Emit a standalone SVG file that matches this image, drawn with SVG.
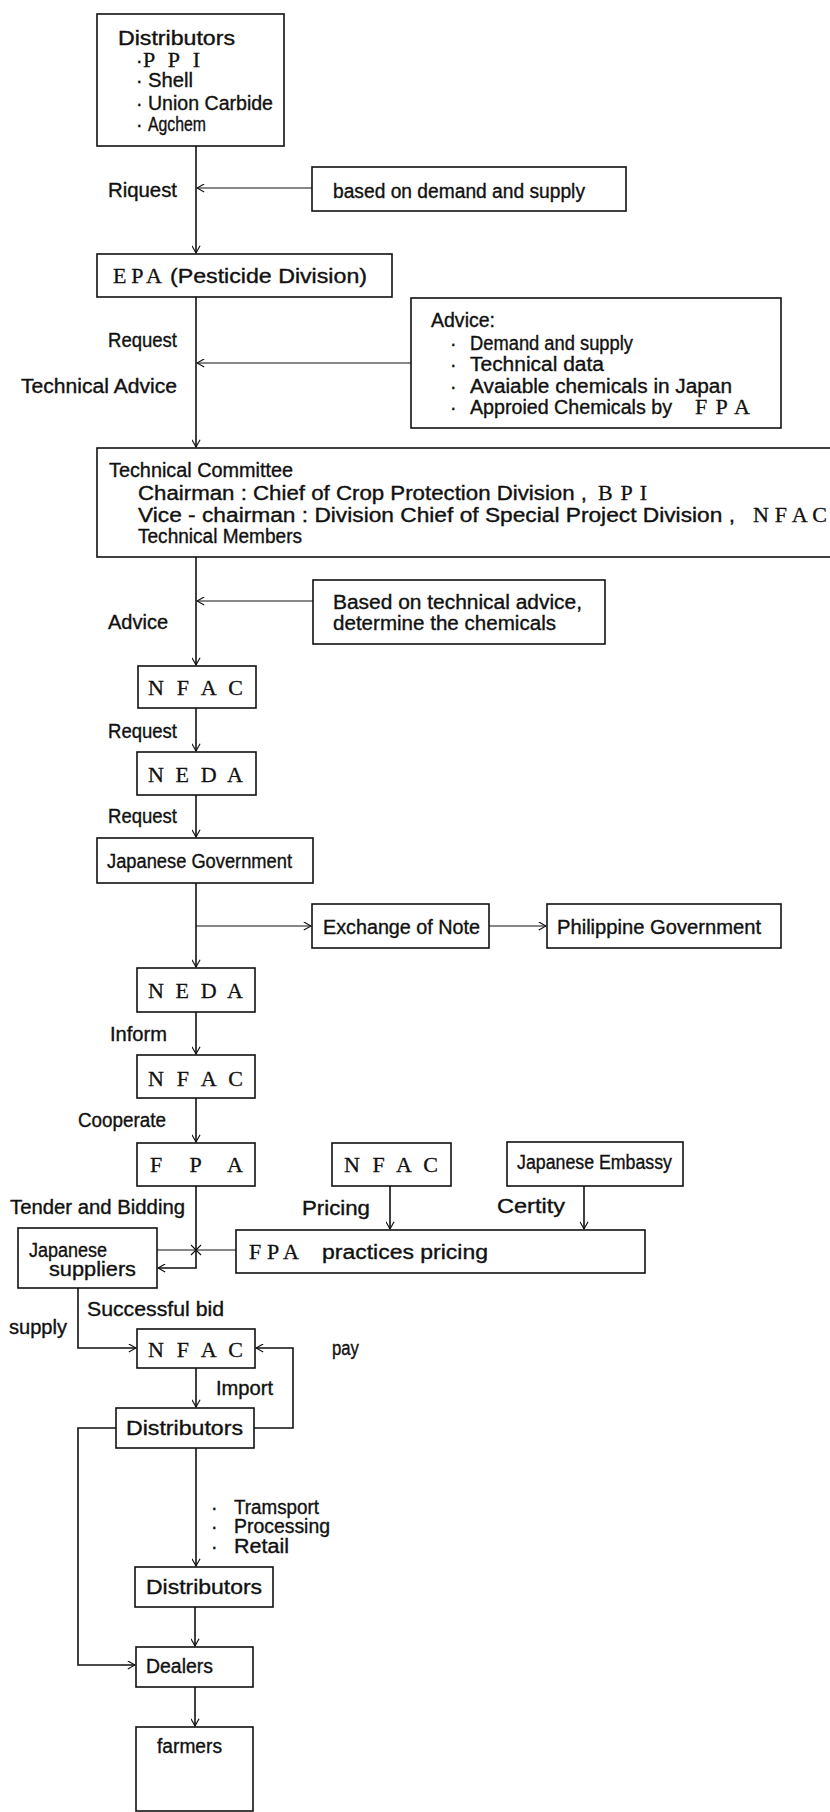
<svg xmlns="http://www.w3.org/2000/svg" width="830" height="1812" viewBox="0 0 830 1812">
<style>
.box{fill:#fff;stroke:#111;stroke-width:1.6}
.t{font-family:"Liberation Sans",Arial,sans-serif;font-size:19.5px;fill:#111;stroke:#111;stroke-width:0.35}
.s{font-family:"Liberation Serif","Times New Roman",serif;font-size:22px;fill:#111;stroke:#111;stroke-width:0.3}
.ln{fill:none;stroke:#111;stroke-width:1.6}
.thin{fill:none;stroke:#111;stroke-width:1.1}
</style>
<defs>
<marker id="ah" viewBox="0 0 10 10" refX="9" refY="5" markerWidth="9" markerHeight="9" markerUnits="userSpaceOnUse" orient="auto">
<path d="M1,0.5 L9,5 L1,9.5" fill="none" stroke="#111" stroke-width="1.3"/>
</marker>
</defs>
<rect width="830" height="1812" fill="#fff"/>

<g id="connectors">
<line class="ln" x1="196" y1="146" x2="196" y2="253" marker-end="url(#ah)"/>
<line class="thin" x1="312" y1="188" x2="197" y2="188" marker-end="url(#ah)"/>
<line class="ln" x1="196" y1="297" x2="196" y2="447" marker-end="url(#ah)"/>
<line class="thin" x1="411" y1="363" x2="197" y2="363" marker-end="url(#ah)"/>
<line class="ln" x1="196" y1="557" x2="196" y2="665" marker-end="url(#ah)"/>
<line class="thin" x1="313" y1="601" x2="197" y2="601" marker-end="url(#ah)"/>
<line class="ln" x1="196" y1="708" x2="196" y2="751" marker-end="url(#ah)"/>
<line class="ln" x1="196" y1="795" x2="196" y2="837" marker-end="url(#ah)"/>
<line class="ln" x1="196" y1="883" x2="196" y2="967" marker-end="url(#ah)"/>
<line class="thin" x1="196" y1="926" x2="311" y2="926" marker-end="url(#ah)"/>
<line class="thin" x1="489" y1="926" x2="546" y2="926" marker-end="url(#ah)"/>
<line class="ln" x1="196" y1="1012" x2="196" y2="1054" marker-end="url(#ah)"/>
<line class="ln" x1="196" y1="1098" x2="196" y2="1142" marker-end="url(#ah)"/>
<path class="ln" d="M196,1186 V1268 H158" marker-end="url(#ah)"/>
<line class="thin" x1="157" y1="1250" x2="236" y2="1250"/>
<path class="thin" d="M191,1245 L201,1255 M201,1245 L191,1255"/>
<line class="ln" x1="390" y1="1186" x2="390" y2="1229" marker-end="url(#ah)"/>
<line class="ln" x1="584" y1="1186" x2="584" y2="1229" marker-end="url(#ah)"/>
<path class="ln" d="M78,1288 V1348 H136" marker-end="url(#ah)"/>
<line class="ln" x1="196" y1="1368" x2="196" y2="1407" marker-end="url(#ah)"/>
<path class="ln" d="M254,1428 H293 V1348 H256" marker-end="url(#ah)"/>
<line class="ln" x1="196" y1="1448" x2="196" y2="1566" marker-end="url(#ah)"/>
<path class="ln" d="M116,1428 H78 V1665 H135" marker-end="url(#ah)"/>
<line class="ln" x1="195" y1="1607" x2="195" y2="1646" marker-end="url(#ah)"/>
<line class="ln" x1="195" y1="1687" x2="195" y2="1726" marker-end="url(#ah)"/>
</g>

<g id="labels">
<text class="t" x="108" y="197" textLength="69" lengthAdjust="spacingAndGlyphs">Riquest</text>
<text class="t" x="108" y="347" textLength="69" lengthAdjust="spacingAndGlyphs">Request</text>
<text class="t" x="21" y="393" textLength="156" lengthAdjust="spacingAndGlyphs">Technical Advice</text>
<text class="t" x="108" y="629" textLength="60" lengthAdjust="spacingAndGlyphs">Advice</text>
<text class="t" x="108" y="738" textLength="69" lengthAdjust="spacingAndGlyphs">Request</text>
<text class="t" x="108" y="823" textLength="69" lengthAdjust="spacingAndGlyphs">Request</text>
<text class="t" x="110" y="1041" textLength="57" lengthAdjust="spacingAndGlyphs">Inform</text>
<text class="t" x="78" y="1127" textLength="88" lengthAdjust="spacingAndGlyphs">Cooperate</text>
<text class="t" x="10" y="1214" textLength="175" lengthAdjust="spacingAndGlyphs">Tender and Bidding</text>
<text class="t" x="302" y="1215" textLength="68" lengthAdjust="spacingAndGlyphs">Pricing</text>
<text class="t" x="497" y="1213" textLength="68" lengthAdjust="spacingAndGlyphs">Certity</text>
<text class="t" x="87" y="1316" textLength="137" lengthAdjust="spacingAndGlyphs">Successful bid</text>
<text class="t" x="9" y="1334" textLength="58" lengthAdjust="spacingAndGlyphs">supply</text>
<text class="t" x="332" y="1355" textLength="27" lengthAdjust="spacingAndGlyphs">pay</text>
<text class="t" x="216" y="1395" textLength="57" lengthAdjust="spacingAndGlyphs">Import</text>
<text class="t" x="211" y="1514">·</text>
<text class="t" x="234" y="1514" textLength="85" lengthAdjust="spacingAndGlyphs">Tramsport</text>
<text class="t" x="211" y="1533">·</text>
<text class="t" x="234" y="1533" textLength="96" lengthAdjust="spacingAndGlyphs">Processing</text>
<text class="t" x="211" y="1553">·</text>
<text class="t" x="234" y="1553" textLength="55" lengthAdjust="spacingAndGlyphs">Retail</text>
</g>

<g id="distributors-top">
<rect class="box" x="97" y="14" width="187" height="132"/>
<text class="t" x="118" y="45" textLength="117" lengthAdjust="spacingAndGlyphs">Distributors</text>
<text class="t" x="136" y="67">·</text>
<text class="s" x="143" y="67" textLength="57" lengthAdjust="spacing">P P I</text>
<text class="t" x="136" y="87">·</text>
<text class="t" x="148" y="87" textLength="45" lengthAdjust="spacingAndGlyphs">Shell</text>
<text class="t" x="136" y="110">·</text>
<text class="t" x="148" y="110" textLength="125" lengthAdjust="spacingAndGlyphs">Union Carbide</text>
<text class="t" x="136" y="131">·</text>
<text class="t" x="148" y="131" textLength="58" lengthAdjust="spacingAndGlyphs">Agchem</text>
</g>

<g id="demand-supply">
<rect class="box" x="312" y="167" width="314" height="44"/>
<text class="t" x="333" y="198" textLength="252" lengthAdjust="spacingAndGlyphs">based on demand and supply</text>
</g>

<g id="epa">
<rect class="box" x="97" y="254" width="295" height="43"/>
<text class="s" x="113" y="283" textLength="49" lengthAdjust="spacing">E P A</text>
<text class="t" x="170" y="283" textLength="197" lengthAdjust="spacingAndGlyphs">(Pesticide Division)</text>
</g>

<g id="advice-box">
<rect class="box" x="411" y="298" width="370" height="130"/>
<text class="t" x="431" y="327" textLength="64" lengthAdjust="spacingAndGlyphs">Advice:</text>
<text class="t" x="450" y="350">·</text>
<text class="t" x="470" y="350" textLength="163" lengthAdjust="spacingAndGlyphs">Demand and supply</text>
<text class="t" x="450" y="371">·</text>
<text class="t" x="470" y="371" textLength="134" lengthAdjust="spacingAndGlyphs">Technical data</text>
<text class="t" x="450" y="393">·</text>
<text class="t" x="470" y="393" textLength="262" lengthAdjust="spacingAndGlyphs">Avaiable chemicals in Japan</text>
<text class="t" x="450" y="414">·</text>
<text class="t" x="470" y="414" textLength="202" lengthAdjust="spacingAndGlyphs">Approied Chemicals by</text>
<text class="s" x="695" y="414" textLength="55" lengthAdjust="spacing">F P A</text>
</g>

<g id="technical-committee">
<rect class="box" x="97" y="448" width="745" height="109"/>
<text class="t" x="109" y="477" textLength="184" lengthAdjust="spacingAndGlyphs">Technical Committee</text>
<text class="t" x="138" y="500" textLength="449" lengthAdjust="spacingAndGlyphs">Chairman : Chief of Crop Protection Division ,</text>
<text class="s" x="598" y="500" textLength="49" lengthAdjust="spacing">B P I</text>
<text class="t" x="138" y="522" textLength="597" lengthAdjust="spacingAndGlyphs">Vice - chairman : Division Chief of Special Project Division ,</text>
<text class="s" x="753" y="522" textLength="74" lengthAdjust="spacing">N F A C</text>
<text class="t" x="138" y="543" textLength="164" lengthAdjust="spacingAndGlyphs">Technical Members</text>
</g>

<g id="determine-box">
<rect class="box" x="313" y="580" width="292" height="64"/>
<text class="t" x="333" y="609" textLength="249" lengthAdjust="spacingAndGlyphs">Based on technical advice,</text>
<text class="t" x="333" y="630" textLength="223" lengthAdjust="spacingAndGlyphs">determine the chemicals</text>
</g>

<g id="nfac-1">
<rect class="box" x="138" y="666" width="118" height="42"/>
<text class="s" x="148" y="695" textLength="95" lengthAdjust="spacing">N F A C</text>
</g>

<g id="neda-1">
<rect class="box" x="137" y="752" width="119" height="43"/>
<text class="s" x="148" y="782" textLength="95" lengthAdjust="spacing">N E D A</text>
</g>

<g id="japanese-government">
<rect class="box" x="97" y="838" width="216" height="45"/>
<text class="t" x="107" y="868" textLength="185" lengthAdjust="spacingAndGlyphs">Japanese Government</text>
</g>

<g id="exchange-note">
<rect class="box" x="312" y="904" width="177" height="44"/>
<text class="t" x="323" y="934" textLength="157" lengthAdjust="spacingAndGlyphs">Exchange of Note</text>
</g>

<g id="philippine-government">
<rect class="box" x="547" y="904" width="234" height="44"/>
<text class="t" x="557" y="934" textLength="204" lengthAdjust="spacingAndGlyphs">Philippine Government</text>
</g>

<g id="neda-2">
<rect class="box" x="137" y="968" width="118" height="44"/>
<text class="s" x="148" y="998" textLength="95" lengthAdjust="spacing">N E D A</text>
</g>

<g id="nfac-2">
<rect class="box" x="137" y="1055" width="118" height="43"/>
<text class="s" x="148" y="1086" textLength="95" lengthAdjust="spacing">N F A C</text>
</g>

<g id="fpa">
<rect class="box" x="137" y="1143" width="118" height="43"/>
<text class="s" x="150" y="1172" textLength="93" lengthAdjust="spacing">F P A</text>
</g>

<g id="nfac-3">
<rect class="box" x="332" y="1143" width="119" height="43"/>
<text class="s" x="344" y="1172" textLength="94" lengthAdjust="spacing">N F A C</text>
</g>

<g id="japanese-embassy">
<rect class="box" x="507" y="1142" width="176" height="44"/>
<text class="t" x="517" y="1169" textLength="155" lengthAdjust="spacingAndGlyphs">Japanese Embassy</text>
</g>

<g id="japanese-suppliers">
<rect class="box" x="18" y="1228" width="139" height="60"/>
<text class="t" x="29" y="1257" textLength="78" lengthAdjust="spacingAndGlyphs">Japanese</text>
<text class="t" x="49" y="1276" textLength="87" lengthAdjust="spacingAndGlyphs">suppliers</text>
</g>

<g id="fpa-pricing">
<rect class="box" x="236" y="1230" width="409" height="43"/>
<text class="s" x="249" y="1259" textLength="50" lengthAdjust="spacing">F P A</text>
<text class="t" x="322" y="1259" textLength="166" lengthAdjust="spacingAndGlyphs">practices pricing</text>
</g>

<g id="nfac-4">
<rect class="box" x="137" y="1329" width="118" height="39"/>
<text class="s" x="148" y="1357" textLength="95" lengthAdjust="spacing">N F A C</text>
</g>

<g id="distributors-2">
<rect class="box" x="116" y="1408" width="138" height="40"/>
<text class="t" x="126" y="1435" textLength="117" lengthAdjust="spacingAndGlyphs">Distributors</text>
</g>

<g id="distributors-3">
<rect class="box" x="135" y="1567" width="138" height="40"/>
<text class="t" x="146" y="1594" textLength="116" lengthAdjust="spacingAndGlyphs">Distributors</text>
</g>

<g id="dealers">
<rect class="box" x="136" y="1647" width="117" height="40"/>
<text class="t" x="146" y="1673" textLength="67" lengthAdjust="spacingAndGlyphs">Dealers</text>
</g>

<g id="farmers">
<rect class="box" x="136" y="1727" width="117" height="84"/>
<text class="t" x="157" y="1753" textLength="65" lengthAdjust="spacingAndGlyphs">farmers</text>
</g>
</svg>
